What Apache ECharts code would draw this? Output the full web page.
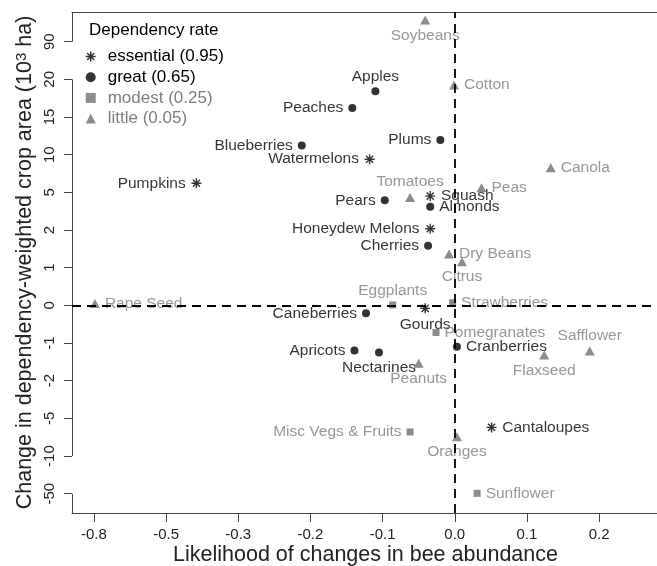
<!DOCTYPE html>
<html><head><meta charset="utf-8">
<script src="https://cdn.jsdelivr.net/npm/echarts@6/dist/echarts.min.js"></script>
<style>html,body{margin:0;padding:0;background:#fff}#c{width:657px;height:566px}</style>
</head><body><div id="c"></div>
<script>
// ---- tick definitions (the axes are drawn on an equally spaced tick scale) ----
const xTickValues = [-0.8, -0.5, -0.3, -0.2, -0.1, 0, 0.1, 0.2];
const xTickLabels = ['-0.8', '-0.5', '-0.3', '-0.2', '-0.1', '0.0', '0.1', '0.2'];
const yTickValues = [-50, -10, -5, -2, -1, 0, 1, 2, 5, 10, 15, 20, 90];
const yTickLabels = ['-50', '-10', '-5', '-2', '-1', '0', '1', '2', '5', '10', '15', '20', '90'];

// ---- data ----
const essentialNames = ['Watermelons', 'Pumpkins', 'Squash', 'Honeydew Melons', 'Gourds', 'Cantaloupes'];
const essentialX = [-0.118, -0.416, -0.034, -0.034, -0.041, 0.051];
const essentialY = [9.4, 6.2, 4.7, 2.1, -0.08, -6.2];

const greatNames = ['Apples', 'Peaches', 'Blueberries', 'Plums', 'Pears', 'Almonds', 'Cherries', 'Caneberries', 'Cranberries', 'Apricots', 'Nectarines'];
const greatX = [-0.110, -0.142, -0.212, -0.020, -0.097, -0.034, -0.037, -0.123, 0.003, -0.139, -0.105];
const greatY = [18.4, 16.2, 11.2, 11.95, 4.37, 3.86, 1.58, -0.21, -1.10, -1.20, -1.25];

const modestNames = ['Eggplants', 'Strawberries', 'Pomegranates', 'Misc Vegs & Fruits', 'Sunflower'];
const modestX = [-0.086, -0.003, -0.026, -0.062, 0.031];
const modestY = [0.01, 0.07, -0.72, -6.8, -49.6];

const littleNames = ['Soybeans', 'Cotton', 'Canola', 'Tomatoes', 'Peas', 'Dry Beans', 'Citrus', 'Rape Seed', 'Peanuts', 'Safflower', 'Flaxseed', 'Oranges'];
const littleX = [-0.041, -0.001, 0.133, -0.062, 0.037, -0.008, 0.010, -0.796, -0.050, 0.187, 0.124, 0.003];
const littleY = [130, 19.25, 8.27, 4.59, 5.6, 1.36, 1.16, 0.05, -1.54, -1.21, -1.32, -7.43];

// label side for each point (style, not data)
const labelSide = {
  'Watermelons': 'left', 'Pumpkins': 'left', 'Squash': 'right', 'Honeydew Melons': 'left', 'Gourds': 'bottom', 'Cantaloupes': 'right',
  'Apples': 'top', 'Peaches': 'left', 'Blueberries': 'left', 'Plums': 'left', 'Pears': 'left', 'Almonds': 'right', 'Cherries': 'left',
  'Caneberries': 'left', 'Cranberries': 'right', 'Apricots': 'left', 'Nectarines': 'bottom',
  'Eggplants': 'top', 'Strawberries': 'right', 'Pomegranates': 'right', 'Misc Vegs & Fruits': 'left', 'Sunflower': 'right',
  'Soybeans': 'bottom', 'Cotton': 'right', 'Canola': 'right', 'Tomatoes': 'top', 'Peas': 'right', 'Dry Beans': 'right',
  'Citrus': 'bottom', 'Rape Seed': 'right', 'Peanuts': 'bottom', 'Safflower': 'top', 'Flaxseed': 'bottom', 'Oranges': 'bottom'
};

// ---- scale transform: value -> position on equally spaced tick scale ----
function toIdx(v, ticks) {
  const n = ticks.length;
  let i;
  if (v <= ticks[0]) i = 0;
  else if (v >= ticks[n - 1]) i = n - 2;
  else { i = 0; while (i < n - 2 && v > ticks[i + 1]) i++; }
  return i + (v - ticks[i]) / (ticks[i + 1] - ticks[i]);
}

const FONT = 'Liberation Sans, Arial, Helvetica, sans-serif';
const BLACK = '#000000';
const GRAY_MARK = '#6f6f6f';
const GRAY_TEXT = '#7d7d7d';
const STAR = 'path://M5,0L5,10M0,5L10,5M1.46,1.46L8.54,8.54M1.46,8.54L8.54,1.46';

function buildData(names, xs, ys) {
  return names.map((n, i) => {
    const side = labelSide[n];
    return {
      name: n,
      value: [toIdx(xs[i], xTickValues), toIdx(ys[i], yTickValues)],
      label: { position: side, distance: (side === 'left' || side === 'right') ? 5 : 3 }
    };
  });
}

const xMin = -0.304, xMax = 7.83;
const yMin = -0.512, yMax = 12.787;

const chart = echarts.init(document.getElementById('c'), null, { renderer: 'canvas' });

const labelBase = (color) => ({
  show: true, formatter: '{b}', color: color, fontSize: 15.5, fontFamily: FONT
});

const option = {
  animation: false,
  backgroundColor: '#ffffff',
  textStyle: { fontFamily: FONT },
  title: {
    text: 'Dependency rate', left: 89, top: 22, padding: 0,
    textStyle: { fontSize: 17, fontWeight: 'normal', color: '#000', fontFamily: FONT }
  },
  legend: {
    orient: 'vertical', left: 85, top: 48, padding: 0,
    itemWidth: 10, itemHeight: 10, itemGap: 3.7,
    formatter: '{t|{name}}',
    textStyle: {
      fontSize: 17, lineHeight: 17, fontFamily: FONT,
      rich: { t: { fontSize: 17, lineHeight: 17, fontFamily: FONT, padding: [0, 0, 0, 7] } }
    },
    data: [
      { name: 'essential (0.95)', icon: STAR, itemStyle: { color: 'transparent', borderColor: BLACK, borderWidth: 1.4 }, textStyle: { color: BLACK } },
      { name: 'great (0.65)', icon: 'circle', itemStyle: { color: BLACK, borderWidth: 0 }, textStyle: { color: BLACK } },
      { name: 'modest (0.25)', icon: 'rect', itemStyle: { color: GRAY_MARK, borderWidth: 0 }, textStyle: { color: GRAY_TEXT } },
      { name: 'little (0.05)', icon: 'triangle', itemStyle: { color: GRAY_MARK, borderWidth: 0 }, textStyle: { color: GRAY_TEXT } }
    ]
  },
  grid: { left: 72, right: -2, top: 12, bottom: 53, containLabel: false, outerBoundsMode: 'none' },
  xAxis: [{
    type: 'value', min: xMin, max: xMax, position: 'bottom',
    axisLine: { show: true, onZero: false, lineStyle: { color: '#444', width: 1 } },
    axisTick: { show: true, inside: false, length: 9, customValues: xTickValues.map((v, i) => i), lineStyle: { color: '#444' } },
    axisLabel: {
      customValues: xTickValues.map((v, i) => i), margin: 14,
      formatter: (v) => xTickLabels[Math.round(v)], fontSize: 15, color: '#222', fontFamily: FONT
    },
    splitLine: { show: false },
    name: 'Likelihood of changes in bee abundance', nameLocation: 'middle', nameGap: 31, nameMoveOverlap: false,
    nameTextStyle: { fontSize: 21.5, color: '#222', fontFamily: FONT }
  }, {
    type: 'value', min: xMin, max: xMax, position: 'top',
    axisLine: { show: true, onZero: false, lineStyle: { color: '#444', width: 1 } },
    axisTick: { show: false }, axisLabel: { show: false }, splitLine: { show: false }
  }],
  yAxis: {
    type: 'value', min: yMin, max: yMax, position: 'left',
    axisLine: { show: false, onZero: false },
    axisTick: { show: true, inside: false, length: 8, customValues: yTickValues.map((v, i) => i), lineStyle: { color: '#444' } },
    axisLabel: {
      customValues: yTickValues.map((v, i) => i), rotate: 90, margin: 15,
      formatter: (v) => yTickLabels[Math.round(v)], fontSize: 15, color: '#222', fontFamily: FONT
    },
    splitLine: { show: false },
    name: 'Change in dependency-weighted crop area (10{sup|3} ha)', nameLocation: 'middle', nameGap: 36, nameRotate: 90, nameMoveOverlap: false,
    nameTextStyle: {
      fontSize: 21.5, color: '#222', fontFamily: FONT,
      rich: { sup: { fontSize: 15, fontFamily: FONT, color: '#222', verticalAlign: 'top', lineHeight: 15 } }
    }
  },
  series: [
    {
      name: 'essential (0.95)', type: 'scatter', z: 2,
      symbol: STAR, symbolSize: 10,
      itemStyle: { color: 'transparent', borderColor: BLACK, borderWidth: 1.4 },
      label: labelBase(BLACK),
      data: buildData(essentialNames, essentialX, essentialY)
    },
    {
      name: 'great (0.65)', type: 'scatter', z: 2,
      symbol: 'circle', symbolSize: 8,
      itemStyle: { color: BLACK },
      label: labelBase(BLACK),
      data: buildData(greatNames, greatX, greatY)
    },
    {
      name: 'modest (0.25)', type: 'scatter', z: 2,
      symbol: 'rect', symbolSize: 7,
      itemStyle: { color: GRAY_MARK },
      label: labelBase(GRAY_TEXT),
      data: buildData(modestNames, modestX, modestY)
    },
    {
      name: 'little (0.05)', type: 'scatter', z: 2,
      symbol: 'triangle', symbolSize: [10, 9],
      itemStyle: { color: GRAY_MARK },
      label: labelBase(GRAY_TEXT),
      data: buildData(littleNames, littleX, littleY)
    },
    {
      name: 'frame', type: 'scatter', z: 3, data: [], silent: true,
      markLine: {
        silent: true, symbol: 'none', label: { show: false },
        lineStyle: { color: '#444', width: 1, type: 'solid' },
        data: [
          [{ coord: [xMin, yMin] }, { coord: [xMin, 0] }],
          [{ coord: [xMin, 1] }, { coord: [xMin, 11] }],
          [{ coord: [xMin, 12] }, { coord: [xMin, yMax] }]
        ]
      }
    },
    {
      name: 'zero lines', type: 'scatter', z: 10, data: [], silent: true,
      markLine: {
        silent: true, symbol: 'none', label: { show: false },
        lineStyle: { color: '#000', width: 1.8, type: [9, 6] },
        data: [
          { xAxis: toIdx(0, xTickValues) },
          { yAxis: toIdx(0, yTickValues) }
        ]
      }
    }
  ]
};
chart.setOption(option);
</script>
</body></html>
